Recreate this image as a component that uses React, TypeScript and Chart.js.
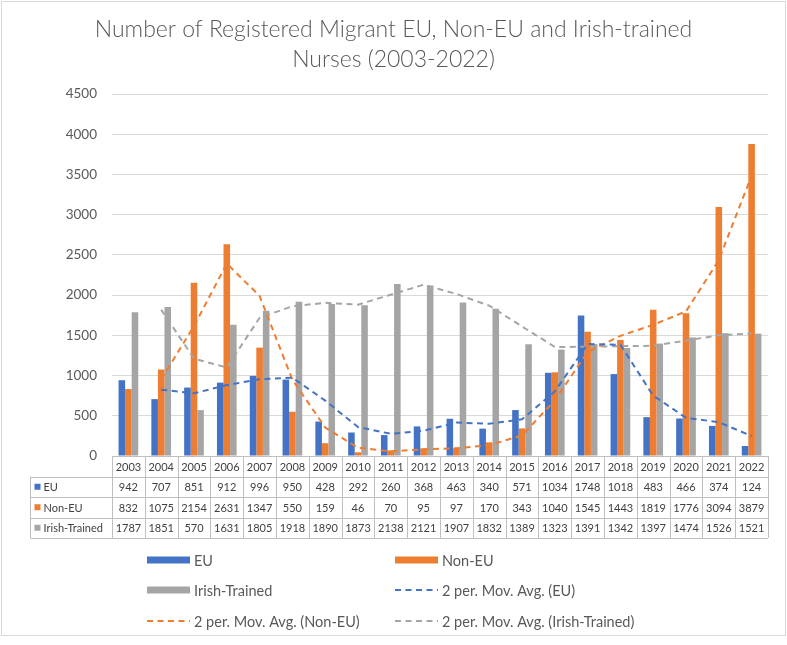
import { useEffect, useRef } from "react";
import { Chart, registerables } from "chart.js";

Chart.register(...registerables);

// Registration years and yearly counts per training origin
const years = [
  "2003", "2004", "2005", "2006", "2007", "2008", "2009", "2010", "2011", "2012",
  "2013", "2014", "2015", "2016", "2017", "2018", "2019", "2020", "2021", "2022",
];
const euNurses = [942, 707, 851, 912, 996, 950, 428, 292, 260, 368, 463, 340, 571, 1034, 1748, 1018, 483, 466, 374, 124];
const nonEuNurses = [832, 1075, 2154, 2631, 1347, 550, 159, 46, 70, 95, 97, 170, 343, 1040, 1545, 1443, 1819, 1776, 3094, 3879];
const irishTrainedNurses = [1787, 1851, 570, 1631, 1805, 1918, 1890, 1873, 2138, 2121, 1907, 1832, 1389, 1323, 1391, 1342, 1397, 1474, 1526, 1521];

const seriesNames = ["EU", "Non-EU", "Irish-Trained"];
const yMax = 4500;
const yStep = 500;
const titleLines = ["Number of Registered Migrant EU, Non-EU and Irish-trained", "Nurses (2003-2022)"];

const BLUE = "#4472C4";
const ORANGE = "#ED7D31";
const GREY = "#A5A5A5";
const TEXT = "#595959";
const FONT = "Lato, 'Noto Sans', sans-serif";

// Two-period moving average trendline (first period has no value)
function movingAverage2(values: number[]): (number | null)[] {
  return values.map((v, i) => (i === 0 ? null : (values[i - 1] + v) / 2));
}

const W = 787;
const H = 645;

const decorPlugin = {
  id: "decor",
  beforeDraw(chart: any) {
    const ctx = chart.ctx;
    ctx.save();
    ctx.fillStyle = "#ffffff";
    ctx.fillRect(0, 0, W, H);
    ctx.restore();
  },
  afterDraw(chart: any) {
    const ctx: CanvasRenderingContext2D = chart.ctx;
    const area = chart.chartArea;
    const xs = chart.scales.x;
    const n = years.length;
    const half = (xs.getPixelForValue(1) - xs.getPixelForValue(0)) / 2;
    ctx.save();

    // outer frame
    ctx.strokeStyle = "#d9d9d9";
    ctx.lineWidth = 1;
    ctx.strokeRect(1.5, 1.5, W - 3, 634);

    // title
    ctx.fillStyle = TEXT;
    ctx.textAlign = "center";
    ctx.textBaseline = "middle";
    ctx.font = `300 23px ${FONT}`;
    ctx.fillText(titleLines[0], W / 2 + 0, 30);
    ctx.fillText(titleLines[1], W / 2 + 0, 60);

    // data table
    const rowH = 20.5;
    const top = area.bottom;
    const tableLeft = 30.5;
    const bottom = top + rowH * 4;
    ctx.strokeStyle = "#bfbfbf";
    ctx.beginPath();
    ctx.moveTo(area.left, top + 0.5);
    ctx.lineTo(area.right, top + 0.5);
    for (let r = 1; r <= 4; r++) {
      const y = Math.round(top + rowH * r) + 0.5;
      ctx.moveTo(tableLeft, y);
      ctx.lineTo(area.right, y);
    }
    for (let i = 0; i <= n; i++) {
      const x = Math.round(i < n ? xs.getPixelForValue(i) - half : xs.getPixelForValue(n - 1) + half) + 0.5;
      ctx.moveTo(x, top);
      ctx.lineTo(x, bottom);
    }
    ctx.moveTo(tableLeft, top + rowH);
    ctx.lineTo(tableLeft, bottom);
    ctx.stroke();

    ctx.font = `11px ${FONT}`;
    ctx.fillStyle = "#404040";
    ctx.textAlign = "center";
    const rows = [euNurses, nonEuNurses, irishTrainedNurses];
    const colors = [BLUE, ORANGE, GREY];
    for (let i = 0; i < n; i++) {
      const cx = xs.getPixelForValue(i);
      ctx.fillText(years[i], cx, top + rowH / 2 + 1);
      rows.forEach((row, r) => {
        ctx.fillText(String(row[i]), cx, top + rowH * (r + 1.5) + 1);
      });
    }
    ctx.textAlign = "left";
    rows.forEach((_, r) => {
      const cy = top + rowH * (r + 1.5);
      ctx.fillStyle = colors[r];
      ctx.fillRect(tableLeft + 4, cy - 3, 6, 6);
      ctx.fillStyle = "#404040";
      ctx.fillText(seriesNames[r], tableLeft + 13, cy + 1);
    });

    // legend
    const legendItems = [
      { label: "EU", color: BLUE, kind: "bar" },
      { label: "Non-EU", color: ORANGE, kind: "bar" },
      { label: "Irish-Trained", color: GREY, kind: "bar" },
      { label: "2 per. Mov. Avg. (EU)", color: BLUE, kind: "line" },
      { label: "2 per. Mov. Avg. (Non-EU)", color: ORANGE, kind: "line" },
      { label: "2 per. Mov. Avg. (Irish-Trained)", color: GREY, kind: "line" },
    ];
    const colX = [147, 395];
    const rowY = [560, 590, 621];
    ctx.font = `14.5px ${FONT}`;
    ctx.textBaseline = "middle";
    legendItems.forEach((item, k) => {
      const x = colX[k % 2];
      const y = rowY[Math.floor(k / 2)];
      if (item.kind === "bar") {
        ctx.fillStyle = item.color;
        ctx.fillRect(x, y - 3.5, 43, 7);
      } else {
        ctx.strokeStyle = item.color;
        ctx.lineWidth = 2;
        ctx.setLineDash([6, 4.5]);
        ctx.beginPath();
        ctx.moveTo(x, y);
        ctx.lineTo(x + 43, y);
        ctx.stroke();
        ctx.setLineDash([]);
      }
      ctx.fillStyle = TEXT;
      ctx.fillText(item.label, x + 47, y + 1);
    });

    ctx.restore();
  },
};

export default function App() {
  const canvasRef = useRef<HTMLCanvasElement | null>(null);

  useEffect(() => {
    const canvas = canvasRef.current;
    if (!canvas) return;
    const barDefaults = { borderWidth: 0, categoryPercentage: 0.6, barPercentage: 1.0, order: 2 };
    const lineDefaults = {
      type: "line" as const,
      borderWidth: 2,
      borderDash: [6, 4.5],
      pointRadius: 0,
      tension: 0,
      fill: false,
      spanGaps: false,
      order: 1,
    };
    const chart = new Chart(canvas, {
      type: "bar",
      data: {
        labels: years,
        datasets: [
          { ...barDefaults, label: "EU", data: euNurses, backgroundColor: BLUE },
          { ...barDefaults, label: "Non-EU", data: nonEuNurses, backgroundColor: ORANGE },
          { ...barDefaults, label: "Irish-Trained", data: irishTrainedNurses, backgroundColor: GREY },
          { ...lineDefaults, label: "2 per. Mov. Avg. (EU)", data: movingAverage2(euNurses), borderColor: BLUE },
          { ...lineDefaults, label: "2 per. Mov. Avg. (Non-EU)", data: movingAverage2(nonEuNurses), borderColor: ORANGE },
          { ...lineDefaults, label: "2 per. Mov. Avg. (Irish-Trained)", data: movingAverage2(irishTrainedNurses), borderColor: GREY },
        ] as any,
      },
      options: {
        responsive: false,
        animation: false,
        layout: { padding: { left: 0, top: 94, right: 19, bottom: 189 } },
        plugins: {
          legend: { display: false },
          title: { display: false },
          tooltip: { enabled: false },
        },
        scales: {
          x: { display: false },
          y: {
            min: 0,
            max: yMax,
            afterFit: (scale: any) => {
              scale.width = 112;
            },
            ticks: {
              stepSize: yStep,
              color: TEXT,
              padding: 15,
              font: { family: FONT, size: 13.5 },
              callback: (value: any) => String(value),
            },
            grid: { color: "#d9d9d9", drawTicks: false },
            border: { display: false },
          },
        },
      },
      plugins: [decorPlugin],
    });
    return () => chart.destroy();
  }, []);

  return (
    <div style={{ position: "absolute", left: 0, top: 0, width: W, height: H }}>
      <canvas ref={canvasRef} width={W} height={H} style={{ display: "block" }} />
    </div>
  );
}
